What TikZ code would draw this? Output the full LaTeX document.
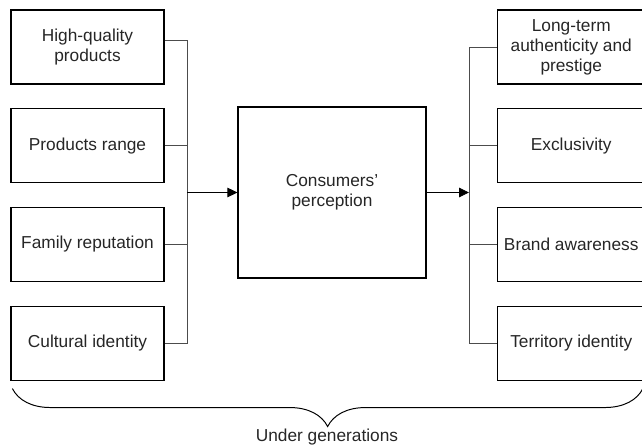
\documentclass[tikz,border=0pt]{standalone}
\usepackage{fontspec}
\setmainfont{Liberation Sans}
\usetikzlibrary{positioning,arrows.meta,decorations.pathreplacing}

\begin{document}
\begin{tikzpicture}[node distance=5.875mm, font=\fontsize{12.3}{14.2}\selectfont, text=black!85,
    factor/.style={draw, rectangle, line width=0.9pt, minimum width=3.825cm, minimum height=1.85cm, inner sep=1pt, align=center},
    outcome/.style={factor, minimum width=3.7cm},
    link/.style={draw=black!70, line width=0.6pt},
    arrow/.style={link, draw=black, -{Triangle[length=2.5mm,width=2.4mm]}}]

    \useasboundingbox (0,0) rectangle (16.05,-11.125);

    % Drivers
    \node [factor] (quality) at (2.1875,-1.175) {High-quality\\products};
    \node [factor, below=of quality] (range) {Products range};
    \node [factor, below=of range] (family) {Family reputation};
    \node [factor, below=of family] (culture) {Cultural identity};

    % Centre
    \node [factor, minimum width=4.7cm, minimum height=4.275cm] (percep) at (8.3,-4.8125) {Consumers’\\perception};

    % Outcomes
    \node [outcome, right=8.3cm of quality] (prestige) {Long-term\\authenticity and\\prestige};
    \node [outcome, below=of prestige] (exclusive) {Exclusivity};
    \node [outcome, below=of exclusive] (brand) {Brand awareness};
    \node [outcome, below=of brand] (territory) {Territory identity};

    % Buses
    \coordinate (lbus) at (4.675,0);
    \coordinate (rbus) at (11.725,0);

    % Left ties
    \draw [link] ([yshift=1.75mm]quality.east) -- ([yshift=1.75mm]quality.east -| lbus) -- (culture.east -| lbus) -- (culture.east);
    \draw [link] (range.east) -- (range.east -| lbus);
    \draw [link] (family.east) -- (family.east -| lbus);
    \draw [arrow] (percep.west -| lbus) -- (percep.west);

    % Right ties
    \draw [link] (prestige.west) -- (prestige.west -| rbus) -- (territory.west -| rbus) -- (territory.west);
    \draw [link] (exclusive.west) -- (exclusive.west -| rbus);
    \draw [link] (brand.west) -- (brand.west -| rbus);
    \draw [arrow] (percep.east) -- (percep.east -| rbus);

    % Brace
    \draw [decorate, decoration={brace, mirror, amplitude=9.5mm}, line width=0.7pt]
        ([xshift=0.5mm, yshift=-1.9mm]culture.south west) -- ([xshift=-0.75mm, yshift=-1.9mm]territory.south east);
    \node (under) at (8.175,-10.925) {Under generations};
\end{tikzpicture}
\end{document}
